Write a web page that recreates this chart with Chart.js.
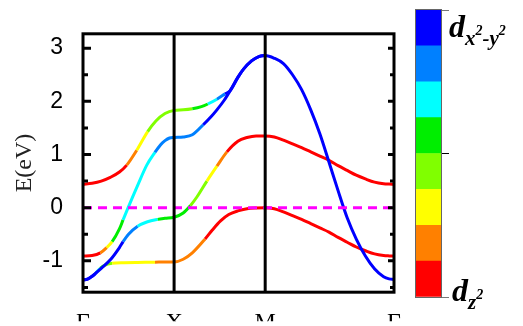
<!DOCTYPE html>
<html>
<head>
<meta charset="utf-8">
<script src="https://cdn.jsdelivr.net/npm/chart.js@4.4.1/dist/chart.umd.min.js"></script>
<style>
  body { margin: 0; background: #fff; }
  #wrap { position: relative; width: 523px; height: 326px; overflow: hidden; background: #fff; }
  #bands { position: absolute; left: 0; top: 0; }
  #cbar { position: absolute; left: 410px; top: 0; }
  #cbframe { position: absolute; left: 415px; top: 9px; width: 25px; height: 287px; border: 1px solid #666; pointer-events: none; }
  .lab { position: absolute; font-family: 'Liberation Serif', serif; font-weight: bold; font-style: italic; color: #000; white-space: nowrap; line-height: 1; }
  .lab .d { font-size: 32px; }
  .lab .s { font-size: 21px; position: relative; top: 8px; }
  .lab sup { font-size: 14px; vertical-align: baseline; position: relative; top: -10px; }
</style>
</head>
<body>
<div id="wrap">
  <canvas id="bands" width="523" height="326"></canvas>
  <canvas id="cbar" width="42" height="326"></canvas>
  <div id="cbframe"></div>
  <div class="lab" style="left:449px; top:10px;"><span class="d">d</span><span class="s">x<sup>2</sup>-y<sup>2</sup></span></div>
  <div class="lab" style="left:452px; top:274px;"><span class="d">d</span><span class="s">z<sup>2</sup></span></div>
</div>
<script>
// k-path: Γ - X - M - Γ
const kLabels = ['Γ', 'X', 'M', 'Γ'];
const kTicks = [0, 1, 2, 3.414];
const eTicks = [-1, 0, 1, 2, 3];
const eMinorTicks = [-1.5, -0.5, 0.5, 1.5, 2.5];
const eMin = -1.59;
const eMax = 3.27;

// orbital character, 0 = d_z2 ... 7 = d_x2-y2
const charColors = ['#ff0000', '#ff8000', '#ffff00', '#80ff00', '#00ee00', '#00ffff', '#0080ff', '#0000ff'];

const band1K = [0, 0.1, 0.2, 0.3, 0.4, 0.48, 0.59, 0.71, 0.8, 0.9, 1.0, 1.1, 1.2, 1.3, 1.37, 1.47, 1.56, 1.615, 1.7, 1.76, 1.85, 1.93, 2.0,
  2.1, 2.2, 2.3, 2.4, 2.5, 2.6, 2.7, 2.8, 2.9, 3.0, 3.1, 3.2, 3.3, 3.36, 3.414];
const band1E = [0.44, 0.46, 0.50, 0.57, 0.67, 0.80, 1.08, 1.43, 1.63, 1.77, 1.83, 1.84, 1.86, 1.90, 1.95, 2.04, 2.14, 2.20, 2.45, 2.60, 2.76, 2.84, 2.86,
  2.81, 2.71, 2.50, 2.22, 1.84, 1.39, 0.86, 0.32, -0.19, -0.59, -0.91, -1.15, -1.30, -1.34, -1.35];
const band1C = [0, 0, 0, 0, 0, 1, 2, 3, 3, 3, 3, 3, 4, 4, 5, 6, 7, 7, 7, 7, 7, 7, 7,
  7, 7, 7, 7, 7, 7, 7, 7, 7, 7, 7, 7, 7, 7, 7];

const band2K = [0, 0.1, 0.19, 0.26, 0.32, 0.4, 0.44, 0.5, 0.6, 0.7, 0.79, 0.85, 0.9, 0.95, 1.0, 1.1, 1.2, 1.32, 1.4, 1.47, 1.55, 1.615, 1.7, 1.76, 1.85, 1.93, 2.0];
const band2E = [-0.91, -0.90, -0.85, -0.75, -0.64, -0.40, -0.23, 0.02, 0.42, 0.80, 1.04, 1.18, 1.26, 1.31, 1.32, 1.33, 1.37, 1.56, 1.70, 1.84, 2.02, 2.20, 2.45, 2.60, 2.76, 2.84, 2.86];
const band2C = [0, 0, 1, 2, 4, 4, 5, 5, 5, 5, 6, 6, 6, 6, 6, 6, 6, 7, 7, 7, 7, 7, 7, 7, 7, 7, 7];

const band3K = [0, 0.05, 0.1, 0.2, 0.3, 0.4, 0.44, 0.5, 0.6, 0.7, 0.82, 0.9, 1.0, 1.1, 1.18, 1.25, 1.36, 1.47, 1.58, 1.7, 1.8, 1.9, 2.0,
  2.1, 2.2, 2.3, 2.4, 2.5, 2.6, 2.7, 2.8, 2.9, 3.0, 3.1, 3.2, 3.3, 3.36, 3.414];
const band3E = [-1.36, -1.345, -1.29, -1.14, -0.98, -0.75, -0.64, -0.50, -0.35, -0.27, -0.22, -0.20, -0.18, -0.10, 0.04, 0.20, 0.50, 0.78, 1.05, 1.25, 1.32, 1.35, 1.35,
  1.33, 1.27, 1.20, 1.13, 1.05, 0.97, 0.89, 0.79, 0.70, 0.61, 0.54, 0.48, 0.45, 0.443, 0.44];
const band3C = [7, 7, 7, 7, 7, 7, 6, 6, 5, 5, 4, 4, 4, 4, 3, 3, 2, 1, 0, 0, 0, 0, 0,
  0, 0, 0, 0, 0, 0, 0, 0, 0, 0, 0, 0, 0, 0, 0];

const band4K = [0, 0.05, 0.1, 0.13, 0.15, 0.19, 0.23, 0.32, 0.45, 0.6, 0.79, 0.9, 1.0, 1.1, 1.2, 1.34, 1.42, 1.51, 1.6, 1.7, 1.8, 1.9, 2.0,
  2.1, 2.2, 2.3, 2.4, 2.5, 2.6, 2.7, 2.8, 2.9, 3.0, 3.1, 3.2, 3.3, 3.36, 3.414];
const band4E = [-1.36, -1.345, -1.29, -1.25, -1.21, -1.14, -1.09, -1.045, -1.035, -1.03, -1.025, -1.02, -1.02, -0.97, -0.85, -0.59, -0.42, -0.25, -0.13, -0.06, -0.02, -0.005, 0,
  -0.02, -0.08, -0.15, -0.22, -0.30, -0.38, -0.46, -0.56, -0.65, -0.74, -0.81, -0.87, -0.90, -0.907, -0.91];
const band4C = [7, 7, 7, 6, 5, 4, 3, 2, 2, 2, 1, 1, 1, 1, 1, 0, 0, 0, 0, 0, 0, 0, 0,
  0, 0, 0, 0, 0, 0, 0, 0, 0, 0, 0, 0, 0, 0, 0];

const fermiK = [0, 3.414];
const fermiE = [0, 0];

function bandSet(K, E, C) {
  return {
    data: K.map((k, i) => ({ x: k, y: E[i] })),
    borderWidth: 3,
    pointRadius: 0,
    fill: false,
    cubicInterpolationMode: 'monotone',
    borderColor: charColors[C[0]],
    segment: { borderColor: ctx => charColors[C[ctx.p0DataIndex]] }
  };
}

const framePlugin = {
  id: 'frame',
  afterDraw(chart) {
    const { ctx, chartArea: a, scales: { x, y } } = chart;
    ctx.save();
    ctx.strokeStyle = '#000';
    ctx.lineWidth = 3;
    ctx.beginPath();
    kTicks.slice(1, -1).forEach(v => {
      const px = x.getPixelForValue(v);
      ctx.moveTo(px, a.top);
      ctx.lineTo(px, a.bottom);
    });
    ctx.stroke();
    ctx.strokeRect(a.left, a.top, a.right - a.left, a.bottom - a.top);
    ctx.beginPath();
    eTicks.forEach(v => {
      const py = y.getPixelForValue(v);
      ctx.moveTo(a.left, py); ctx.lineTo(a.left + 8, py);
      ctx.moveTo(a.right, py); ctx.lineTo(a.right - 6, py);
    });
    eMinorTicks.forEach(v => {
      const py = y.getPixelForValue(v);
      ctx.moveTo(a.left, py); ctx.lineTo(a.left + 5, py);
      ctx.moveTo(a.right, py); ctx.lineTo(a.right - 4, py);
    });
    ctx.stroke();
    ctx.restore();
  }
};

new Chart(document.getElementById('bands'), {
  type: 'line',
  data: {
    datasets: [
      {
        data: fermiK.map((k, i) => ({ x: k, y: fermiE[i] })),
        borderColor: '#ff00ff',
        borderWidth: 3,
        borderDash: [9, 6],
        pointRadius: 0,
        fill: false
      },
      bandSet(band2K, band2E, band2C),
      bandSet(band1K, band1E, band1C),
      bandSet(band3K, band3E, band3C),
      bandSet(band4K, band4E, band4C)
    ]
  },
  options: {
    responsive: false,
    animation: false,
    devicePixelRatio: 1,
    layout: { padding: { left: 0, right: 129, top: 10, bottom: 0 } },
    plugins: { legend: { display: false }, tooltip: { enabled: false } },
    scales: {
      x: {
        type: 'linear',
        min: 0,
        max: 3.414,
        afterBuildTicks: s => { s.ticks = kTicks.map(v => ({ value: v })); },
        afterFit: s => { s.height = 29; },
        ticks: {
          callback: (v, i) => kLabels[i],
          font: { family: 'Liberation Serif', size: 24 },
          color: '#000',
          padding: 16,
          maxRotation: 0,
          autoSkip: false
        },
        grid: { display: false, drawTicks: false },
        border: { display: false }
      },
      y: {
        min: eMin,
        max: eMax,
        afterBuildTicks: s => { s.ticks = eTicks.map(v => ({ value: v })); },
        afterFit: s => { s.width = 83; },
        ticks: {
          font: { family: 'Liberation Sans', size: 23 },
          color: '#000',
          padding: 20
        },
        grid: { display: false, drawTicks: false },
        border: { display: false },
        title: {
          display: true,
          text: 'E(eV)',
          font: { family: 'Liberation Serif', size: 24 },
          color: '#222',
          padding: { top: 10, bottom: 0 }
        }
      }
    }
  },
  plugins: [framePlugin]
});

// colour bar
new Chart(document.getElementById('cbar'), {
  type: 'bar',
  data: {
    labels: [''],
    datasets: charColors.map(c => ({
      data: [1],
      backgroundColor: c,
      borderWidth: 0,
      barPercentage: 1,
      categoryPercentage: 1
    }))
  },
  options: {
    responsive: false,
    animation: false,
    devicePixelRatio: 1,
    layout: { padding: { left: 6, right: 0, top: 10, bottom: 29 } },
    plugins: { legend: { display: false }, tooltip: { enabled: false } },
    scales: {
      x: { stacked: true, display: false },
      y: {
        stacked: true,
        position: 'right',
        min: 0,
        max: charColors.length,
        afterBuildTicks: s => { s.ticks = [0, 4, 8].map(v => ({ value: v })); },
        afterFit: s => { s.width = 11; },
        ticks: { display: false },
        grid: {
          drawOnChartArea: false,
          drawTicks: true,
          tickLength: 8,
          lineWidth: 1,
          color: c => (c.tick && c.tick.value === 4) ? '#000' : '#777'
        },
        border: { display: false }
      }
    }
  }
});
</script>
</body>
</html>
